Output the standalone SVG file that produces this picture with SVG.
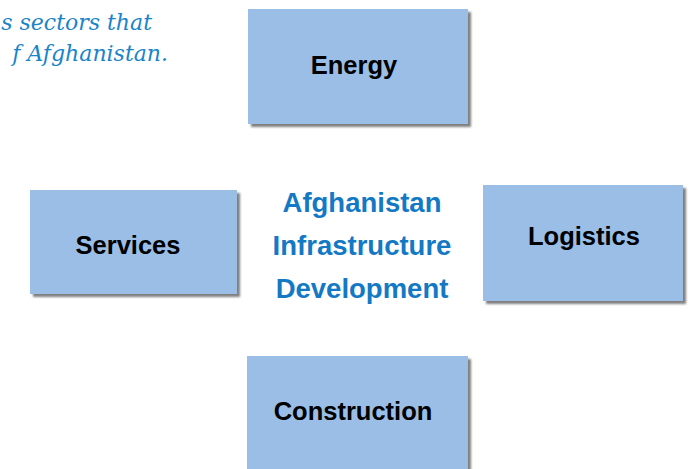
<svg xmlns="http://www.w3.org/2000/svg" width="691" height="469" viewBox="0 0 691 469">
<defs>
<filter id="sh" x="-10%" y="-10%" width="130%" height="130%">
<feDropShadow dx="3" dy="3" stdDeviation="1.2" flood-color="#555" flood-opacity="0.75"/>
</filter>
<style>
.box{fill:#9abee5;filter:url(#sh);}
.lbl{font-family:"Liberation Sans",Arial,sans-serif;font-weight:bold;font-size:25.5px;fill:#000;text-anchor:middle;}
.ctr{font-family:"Liberation Sans",Arial,sans-serif;font-weight:bold;font-size:27.5px;fill:#1479c4;text-anchor:middle;}
.cap{font-family:"DejaVu Serif","Liberation Serif",serif;font-style:italic;font-size:22px;fill:#1a84c9;text-anchor:end;}
</style>
</defs>
<rect width="691" height="469" fill="#fff"/>
<g id="caption">
<text class="cap" x="152" y="30">s sectors that</text>
<text class="cap" x="168" y="61">f Afghanistan.</text>
</g>
<g id="connectors"></g>
<g id="energy">
<rect class="box" x="248" y="9" width="220" height="115"/>
<text class="lbl" x="354" y="74">Energy</text>
</g>
<g id="services">
<rect class="box" x="30" y="190" width="207" height="104"/>
<text class="lbl" x="128" y="254">Services</text>
</g>
<g id="logistics">
<rect class="box" x="483" y="185" width="200" height="116"/>
<text class="lbl" x="584" y="245">Logistics</text>
</g>
<g id="construction">
<rect class="box" x="247" y="356" width="221" height="120"/>
<text class="lbl" x="353" y="420">Construction</text>
</g>
<g id="center">
<text class="ctr" x="362" y="212">Afghanistan</text>
<text class="ctr" x="362" y="255">Infrastructure</text>
<text class="ctr" x="362" y="298">Development</text>
</g>
</svg>
